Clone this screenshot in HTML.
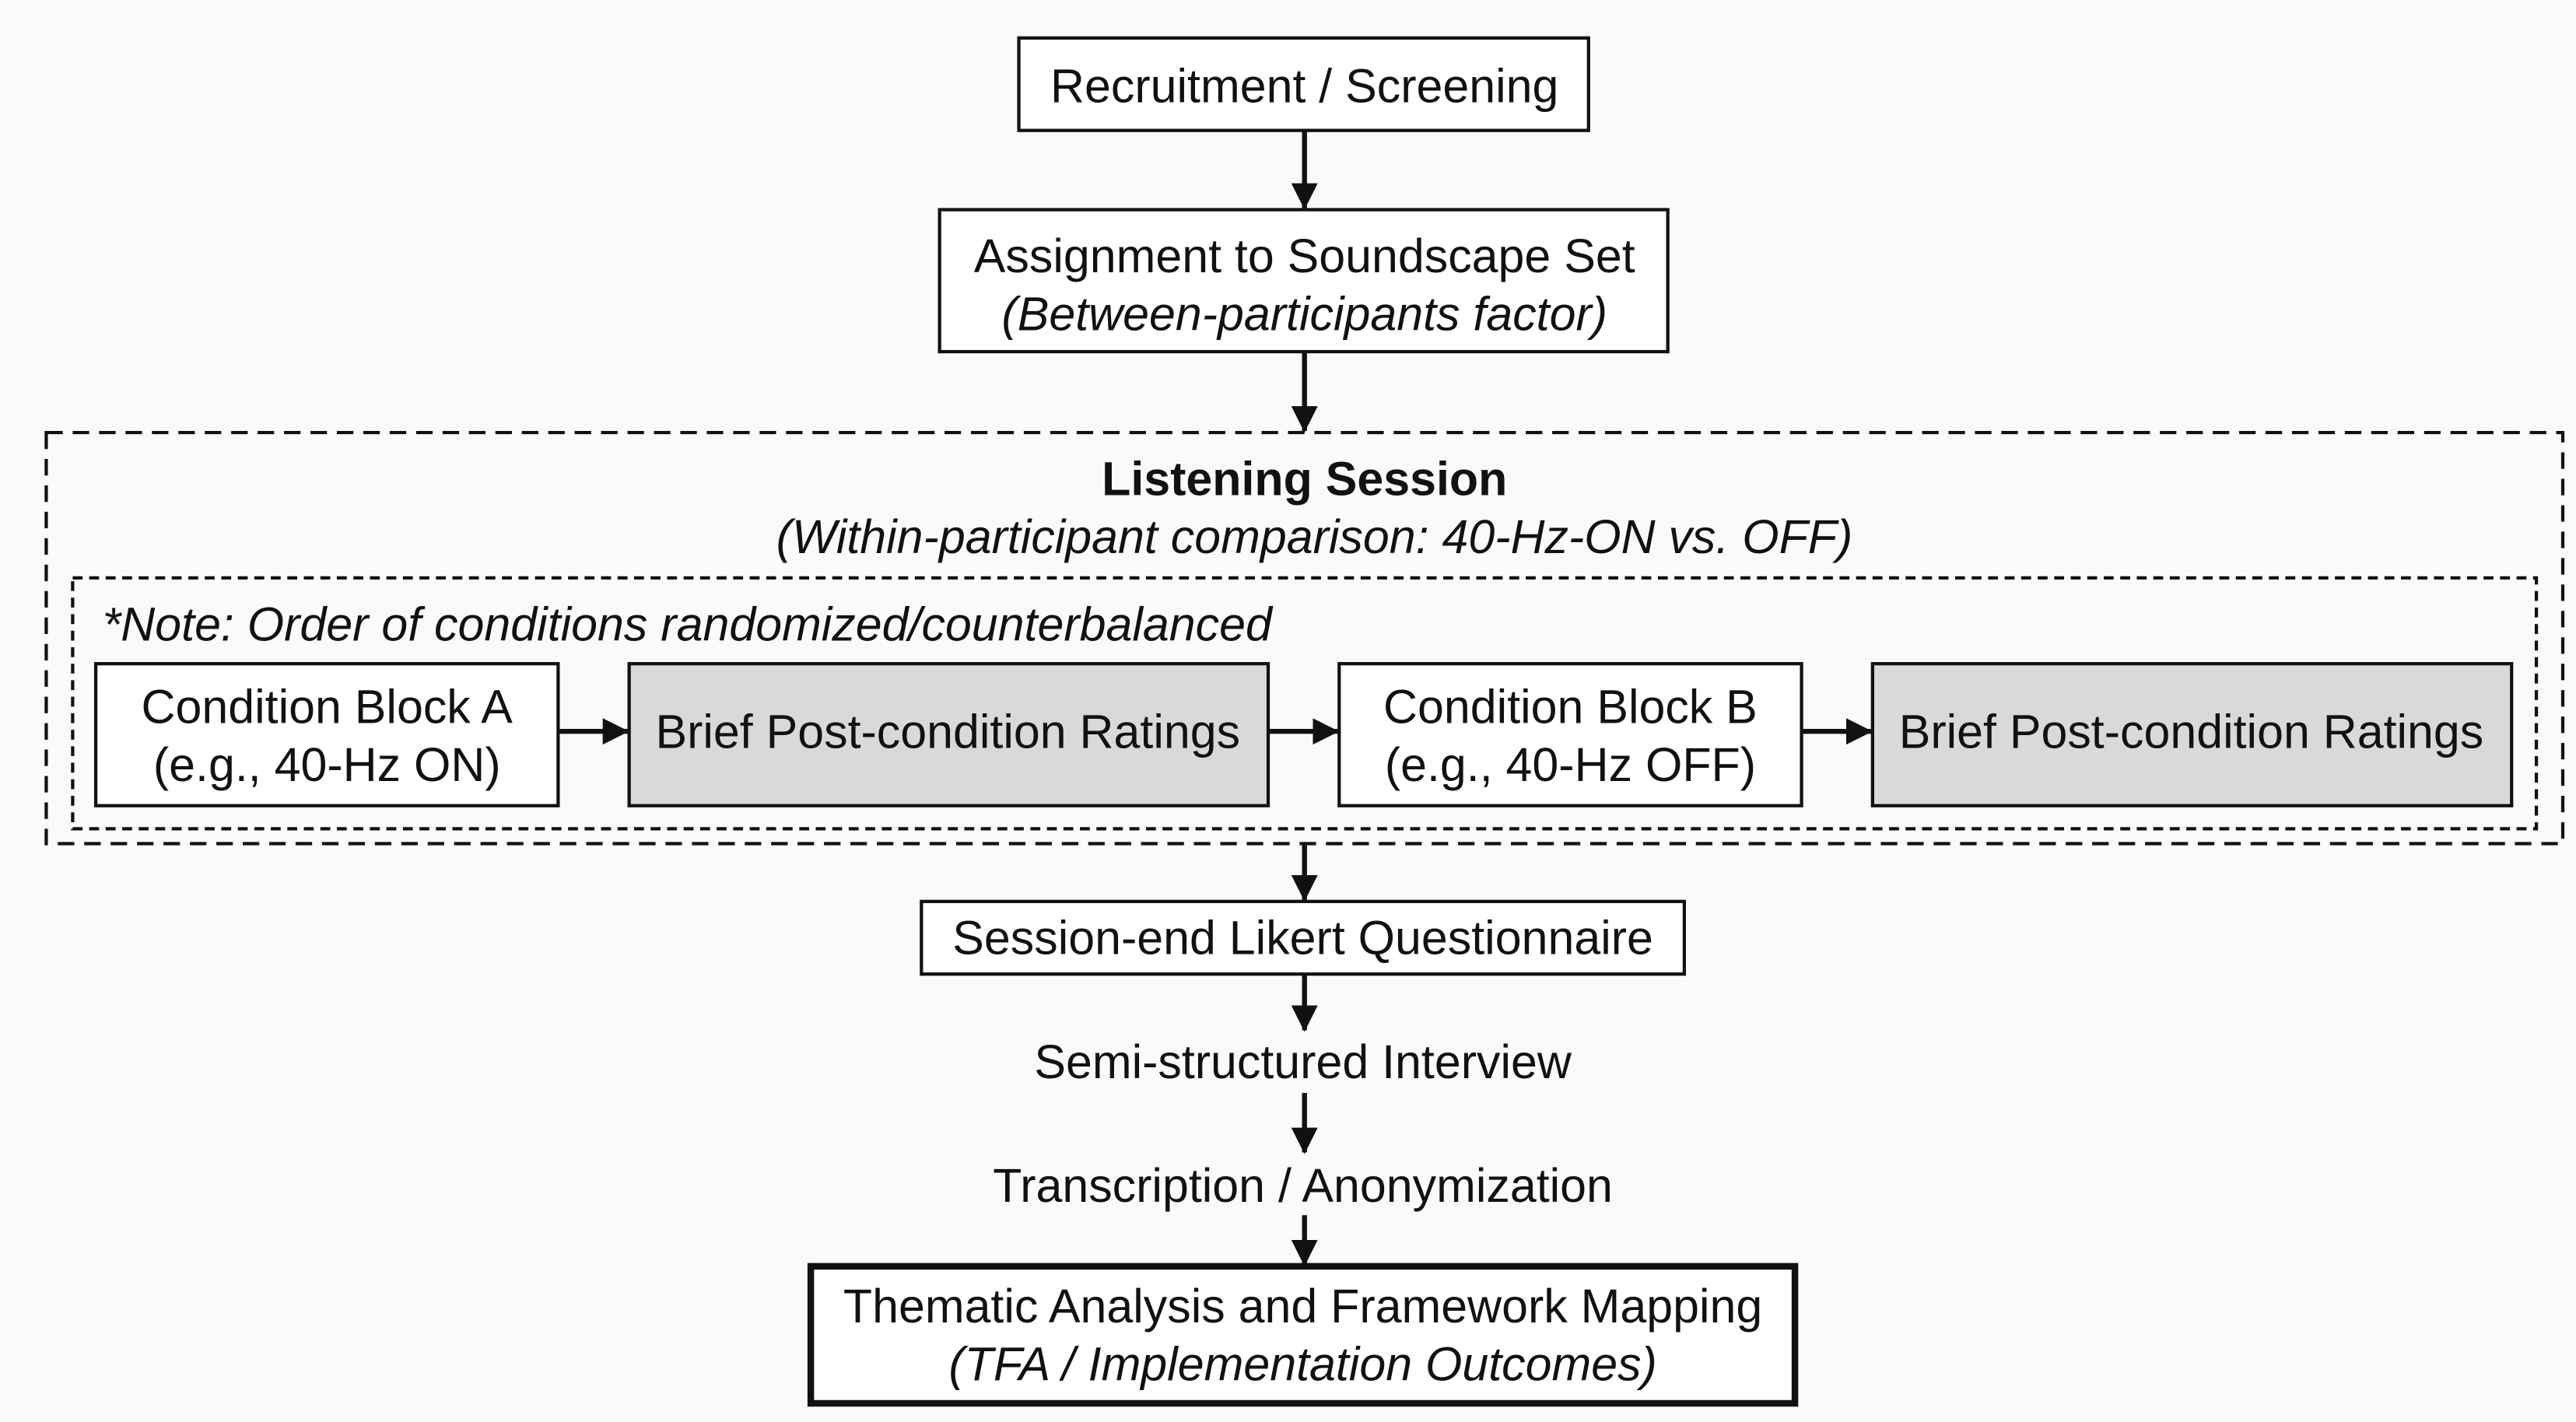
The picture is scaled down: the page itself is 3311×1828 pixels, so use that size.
<!DOCTYPE html>
<html><head><meta charset="utf-8"><style>
html,body{margin:0;padding:0;background:#fafafa;}
svg{display:block;}
text{font-family:"Liberation Sans",Arial,sans-serif;fill:#111;}
</style></head><body>
<svg width="3311" height="1828" viewBox="0 0 1560 861.3" preserveAspectRatio="none" xmlns="http://www.w3.org/2000/svg">
<defs><marker id="b" markerWidth="16" markerHeight="16" refX="15" refY="8" orient="auto" markerUnits="userSpaceOnUse"><path d="M0,0 L16,8 L0,16 z" fill="#111"/></marker></defs>
<rect width="1560" height="862" fill="#fafafa"/>
<g stroke="#111" fill="#fff" stroke-width="2">
<rect x="617" y="23" width="345" height="56"/>
<rect x="569" y="127" width="441" height="86"/>
<rect x="28" y="262" width="1524" height="249" fill="none" stroke-dasharray="10,6"/>
<rect x="44" y="350" width="1492" height="152" fill="none" stroke-dasharray="6,4"/>
<rect x="58" y="402" width="280" height="86"/>
<rect x="381" y="402" width="387" height="86" fill="#d9d9d9"/>
<rect x="811" y="402" width="280" height="86"/>
<rect x="1134" y="402" width="387" height="86" fill="#d9d9d9"/>
<rect x="558" y="546" width="462" height="44"/>
<rect x="491" y="767" width="596" height="83" stroke-width="4"/>
</g>
<g stroke="#111" stroke-width="3" fill="none">
<line x1="790" y1="79" x2="790" y2="126" marker-end="url(#b)"/>
<line x1="790" y1="213" x2="790" y2="261" marker-end="url(#b)"/>
<line x1="790" y1="511" x2="790" y2="545" marker-end="url(#b)"/>
<line x1="790" y1="590" x2="790" y2="624" marker-end="url(#b)"/>
<line x1="790" y1="662" x2="790" y2="698" marker-end="url(#b)"/>
<line x1="790" y1="736" x2="790" y2="766" marker-end="url(#b)"/>
<line x1="338" y1="443" x2="380" y2="443" marker-end="url(#b)"/>
<line x1="768" y1="443" x2="810" y2="443" marker-end="url(#b)"/>
<line x1="1091" y1="443" x2="1133" y2="443" marker-end="url(#b)"/>
</g>
<g font-size="28.7" text-anchor="middle">
<text x="790" y="62">Recruitment / Screening</text>
<text x="790" y="165">Assignment to Soundscape Set</text>
<text x="790" y="200" font-style="italic">(Between-participants factor)</text>
<text x="790" y="300" font-weight="bold">Listening Session</text>
<text x="796" y="335" font-style="italic">(Within-participant comparison: 40-Hz-ON vs. OFF)</text>
<text x="198" y="438">Condition Block A</text>
<text x="198" y="473">(e.g., 40-Hz ON)</text>
<text x="574" y="453">Brief Post-condition Ratings</text>
<text x="951" y="438">Condition Block B</text>
<text x="951" y="473">(e.g., 40-Hz OFF)</text>
<text x="1327" y="453">Brief Post-condition Ratings</text>
<text x="789" y="578">Session-end Likert Questionnaire</text>
<text x="789" y="653">Semi-structured Interview</text>
<text x="789" y="728">Transcription / Anonymization</text>
<text x="789" y="801">Thematic Analysis and Framework Mapping</text>
<text x="789" y="836" font-style="italic">(TFA / Implementation Outcomes)</text>
</g>
<text x="62" y="388" font-size="28.7" font-style="italic">*Note: Order of conditions randomized/counterbalanced</text>
</svg>
</body></html>
